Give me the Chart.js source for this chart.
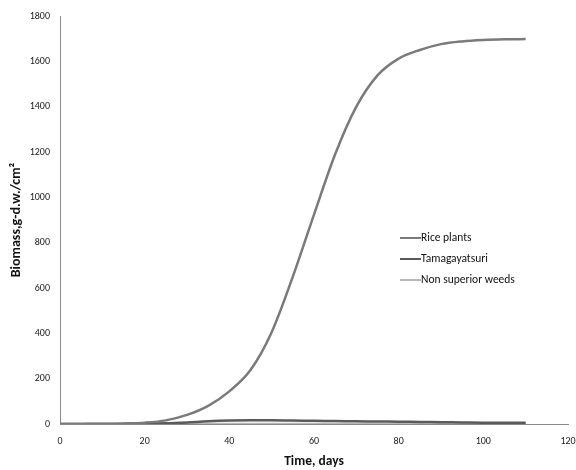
<!DOCTYPE html>
<html>
<head>
<meta charset="utf-8">
<script src="https://cdn.jsdelivr.net/npm/chart.js@4.4.1/dist/chart.umd.min.js"></script>
<style>
  html, body { margin: 0; padding: 0; background: #fff; overflow: hidden; }
  #wrap { width: 576px; height: 470px; }
</style>
</head>
<body>
<div id="wrap"><canvas id="biomass-chart" width="576" height="470"></canvas></div>
<script>
// Days of simulation
const days = [0, 5, 10, 15, 20, 25, 30, 35, 40, 45, 50, 55, 60, 65, 70, 75, 80, 85, 90, 95, 100, 105, 110];

// Biomass per series
const ricePlants = [0, 0.5, 1, 2.5, 6, 16, 40, 80, 144, 238, 405, 650, 924, 1190, 1400, 1538, 1612, 1650, 1676, 1688, 1694, 1697, 1698];
const tamagayatsuri = [0, 0, 0, 0, 1, 3, 7, 12, 15, 16, 16, 15, 14, 13, 12, 11, 10, 9, 8, 7, 6, 6, 5];
const nonSuperiorWeeds = [0, 0, 0, 0, 0, 1, 1, 1, 1, 1, 1, 1, 1, 1, 1, 1, 1, 1, 1, 1, 1, 1, 1];

const seriesLabels = ['Rice plants', 'Tamagayatsuri', 'Non superior weeds'];

// Axis ticks
const xTicks = [0, 20, 40, 60, 80, 100, 120];
const yTicks = [0, 200, 400, 600, 800, 1000, 1200, 1400, 1600, 1800];

const fontFamily = 'Carlito, Lato, "Open Sans", sans-serif';

function toPoints(values) {
    return days.map((d, i) => ({ x: d, y: values[i] }));
}

// Small legend drawn inside the plot, like the original
const insideLegend = {
    id: 'insideLegend',
    afterDraw(chart) {
        const ctx = chart.ctx;
        const x0 = 400;
        const rows = [238, 259, 280];
        ctx.save();
        ctx.font = '11.5px ' + fontFamily;
        ctx.textBaseline = 'middle';
        chart.data.datasets.forEach((ds, i) => {
            ctx.strokeStyle = ds.borderColor;
            ctx.lineWidth = 2;
            ctx.beginPath();
            ctx.moveTo(x0, rows[i]);
            ctx.lineTo(x0 + 21, rows[i]);
            ctx.stroke();
            ctx.fillStyle = '#111';
            ctx.fillText(ds.label, x0 + 21, rows[i]);
        });
        ctx.restore();
    }
};

const biomassChart = new Chart(document.getElementById('biomass-chart'), {
    type: 'line',
    data: {
        datasets: [
            {
                label: seriesLabels[0],
                data: toPoints(ricePlants),
                borderColor: '#7a7a7a',
                borderWidth: 2.5,
                pointRadius: 0,
                cubicInterpolationMode: 'monotone'
            },
            {
                label: seriesLabels[1],
                data: toPoints(tamagayatsuri),
                borderColor: '#5a5a5a',
                borderWidth: 2.5,
                pointRadius: 0,
                cubicInterpolationMode: 'monotone'
            },
            {
                label: seriesLabels[2],
                data: toPoints(nonSuperiorWeeds),
                borderColor: '#b8b8b8',
                borderWidth: 2,
                pointRadius: 0,
                cubicInterpolationMode: 'monotone'
            }
        ]
    },
    options: {
        responsive: false,
        animation: false,
        layout: { padding: { top: 14, right: 8, bottom: 0, left: 8 } },
        plugins: {
            legend: { display: false },
            tooltip: { enabled: false }
        },
        scales: {
            x: {
                type: 'linear',
                min: 0,
                max: 120,
                afterBuildTicks: (s) => { s.ticks = xTicks.map(v => ({ value: v })); },
                afterFit: (s) => { s.paddingRight = 0; s.paddingLeft = 0; s.height = 46; },
                grid: { display: false, drawTicks: false },
                border: { display: true, color: '#8a8a8a', width: 1, dash: [1, 1] },
                ticks: {
                    color: '#222',
                    font: { family: fontFamily, size: 10 },
                    padding: 11,
                    maxRotation: 0,
                    callback: (v) => String(v)
                },
                title: {
                    display: true,
                    text: 'Time, days',
                    color: '#111',
                    font: { family: fontFamily, size: 13.5, weight: 'bold' },
                    padding: { top: 4, bottom: 0 }
                }
            },
            y: {
                min: 0,
                max: 1800,
                afterBuildTicks: (s) => { s.ticks = yTicks.map(v => ({ value: v })); },
                afterFit: (s) => { s.width = 52; },
                grid: { display: false, drawTicks: false },
                border: { display: true, color: '#8a8a8a', width: 1, dash: [1, 1] },
                ticks: {
                    color: '#222',
                    font: { family: fontFamily, size: 10 },
                    padding: 10,
                    callback: (v) => String(v)
                },
                title: {
                    display: true,
                    text: 'Biomass,g-d.w./cm²',
                    color: '#111',
                    font: { family: fontFamily, size: 14, weight: 'bold' },
                    padding: { top: 0, bottom: 4 }
                }
            }
        }
    },
    plugins: [insideLegend]
});
</script>
</body>
</html>
